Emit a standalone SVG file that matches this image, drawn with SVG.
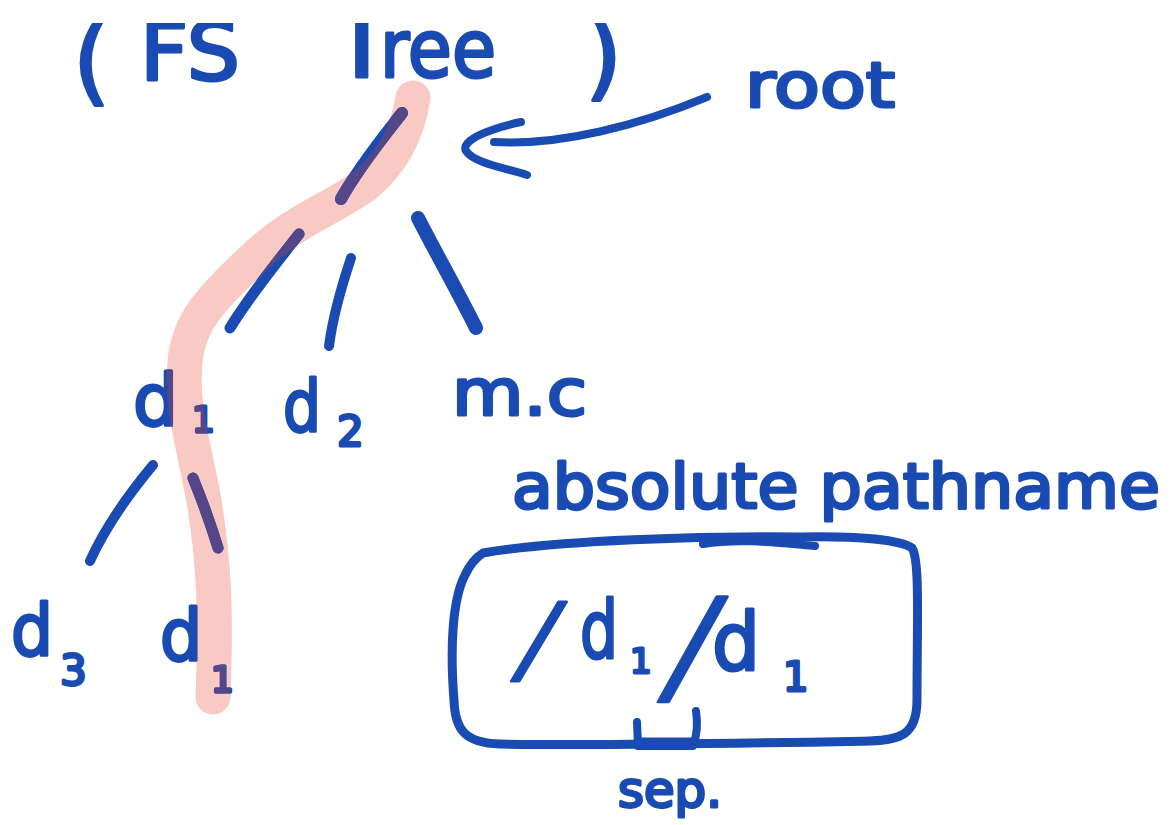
<svg xmlns="http://www.w3.org/2000/svg" xmlns:xlink="http://www.w3.org/1999/xlink" width="1176" height="825" viewBox="0 0 1176 825">
  <style>
    .ink { fill: #194bb3; stroke: #194bb3; stroke-width: 3; stroke-linejoin: round; font-family: "DejaVu Sans", "Liberation Sans", sans-serif; }
    .line { fill: none; stroke: #194bb3; stroke-linecap: round; stroke-linejoin: round; }
    .hl { fill: none; stroke: #f9cac4; stroke-width: 35; stroke-linecap: round; stroke-linejoin: round; }
  </style>
  <defs>
    <!-- highlighter trace from the root down to the nested d1 -->
    <path id="trace" d="M413,98 C408,130 395,160 365,185 C330,210 290,222 250,262 C212,298 188,322 185,362 C181,402 192,440 202,490 C215,560 216,620 213,697"/>
    <mask id="hlmask" maskUnits="userSpaceOnUse" x="0" y="0" width="1176" height="825">
      <use xlink:href="#trace" fill="none" stroke="#fff" stroke-width="35" stroke-linecap="round" stroke-linejoin="round"/>
    </mask>
    <!-- ink under the highlighter turns purple -->
    <filter id="tint" filterUnits="userSpaceOnUse" x="0" y="0" width="1176" height="825">
      <feFlood flood-color="#52468a"/>
      <feComposite in2="SourceAlpha" operator="in"/>
    </filter>
    <clipPath id="topcut">
      <rect x="0" y="23" width="1176" height="802"/>
    </clipPath>
  </defs>

  <rect width="1176" height="825" fill="#fff"/>

  <g id="highlight">
    <use xlink:href="#trace" class="hl"/>
  </g>

  <g id="ink">
    <g id="connectors">
      <!-- tree edges -->
      <path class="line" stroke-width="12" d="M402,113 C385,135 360,165 341,199"/>
      <path class="line" stroke-width="11" d="M299,234 C275,265 250,295 230,328"/>
      <path class="line" stroke-width="10" d="M351,258 C342,285 333,315 329,346"/>
      <path class="line" stroke-width="14" d="M418,218 C437,255 458,292 476,328"/>
      <path class="line" stroke-width="10" d="M153,465 C128,495 105,528 90,561"/>
      <path class="line" stroke-width="11" d="M193,478 C202,500 211,525 218,548"/>
      <!-- arrow pointing at the root -->
      <path class="line" stroke-width="8" d="M707,97 C640,125 560,146 494,142"/>
      <path class="line" stroke-width="8" d="M521,122 C492,128 460,140 466,151 C474,163 505,168 527,175"/>
    </g>

    <g id="title" clip-path="url(#topcut)">
      <text class="ink" x="73" y="93" font-size="95">(</text>
      <text class="ink" x="140" y="80" font-size="80" textLength="100" lengthAdjust="spacingAndGlyphs">FS</text>
      <text class="ink" y="77" font-size="80"><tspan x="330" font-size="104">T</tspan><tspan x="380" textLength="116" lengthAdjust="spacingAndGlyphs">ree</tspan></text>
      <text class="ink" x="585" y="88" font-size="95">)</text>
    </g>

    <g id="root-label">
      <text class="ink" x="745" y="107" font-size="62" textLength="150" lengthAdjust="spacingAndGlyphs">root</text>
    </g>

    <g id="node-d1">
      <text class="ink" x="133" y="425" font-size="72" textLength="45" lengthAdjust="spacingAndGlyphs">d</text>
      <text class="ink" x="192" y="432" font-size="36">1</text>
    </g>

    <g id="node-d2">
      <text class="ink" x="283" y="431" font-size="72" textLength="38" lengthAdjust="spacingAndGlyphs">d</text>
      <text class="ink" x="337" y="446" font-size="42">2</text>
    </g>

    <g id="node-mc">
      <text class="ink" x="452" y="415" font-size="64" textLength="135" lengthAdjust="spacingAndGlyphs">m.c</text>
    </g>

    <g id="node-d3">
      <text class="ink" x="11" y="655" font-size="72" textLength="42" lengthAdjust="spacingAndGlyphs">d</text>
      <text class="ink" x="60" y="685" font-size="42">3</text>
    </g>

    <g id="node-d1-nested">
      <text class="ink" x="160" y="660" font-size="72" textLength="42" lengthAdjust="spacingAndGlyphs">d</text>
      <text class="ink" x="211" y="692" font-size="36">1</text>
    </g>

    <g id="abs-label">
      <text class="ink" x="512" y="508" font-size="62" textLength="648" lengthAdjust="spacingAndGlyphs">absolute pathname</text>
    </g>

    <g id="path-box">
      <path class="line" stroke-width="9" d="M483,553 C560,540 700,536 800,537 C860,536 900,540 912,548 C920,560 917,620 917,700 C917,735 900,740 870,741 C760,743 600,746 500,744 C465,743 455,730 454,700 C450,650 452,600 465,575 Q472,560 483,553 Z"/>
      <path class="line" stroke-width="8" d="M703,544 C740,538 780,543 815,546"/>
      <text class="ink" font-size="96" transform="translate(514,672) skewX(-16)">/</text>
      <text class="ink" x="580" y="658" font-size="80" textLength="38" lengthAdjust="spacingAndGlyphs">d</text>
      <text class="ink" x="630" y="673" font-size="34">1</text>
      <text class="ink" font-size="128" transform="translate(661,690) skewX(-14)">/</text>
      <text class="ink" x="712" y="670" font-size="80" textLength="48" lengthAdjust="spacingAndGlyphs">d</text>
      <text class="ink" x="783" y="691" font-size="40">1</text>
    </g>

    <g id="sep-label">
      <path class="line" stroke-width="8" d="M637,722 L638,746 L693,746 Q699,730 696,711"/>
      <path class="line" stroke-width="11" d="M640,743 L692,743"/>
      <text class="ink" x="618" y="807" font-size="50" textLength="104" lengthAdjust="spacingAndGlyphs">sep.</text>
    </g>
  </g>

  <!-- purple where ink sits under the highlighter -->
  <use xlink:href="#ink" mask="url(#hlmask)" filter="url(#tint)"/>
</svg>
